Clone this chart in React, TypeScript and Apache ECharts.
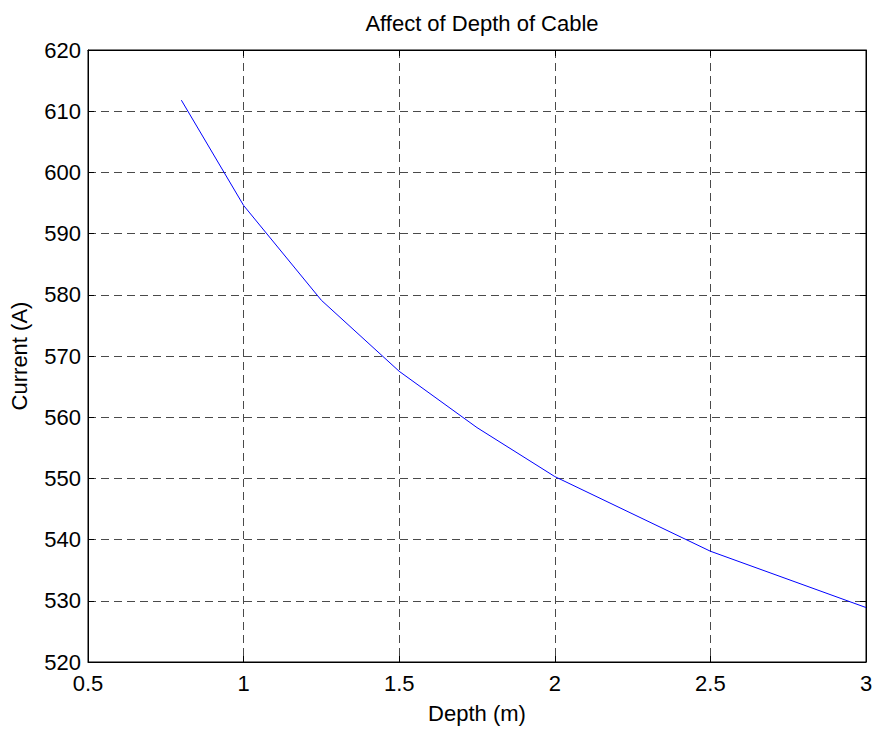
import React, { useEffect, useRef } from "react";
import * as echarts from "echarts";

const depth = [0.8, 1, 1.25, 1.5, 1.75, 2, 2.5, 3];
const current = [611.8, 594.6, 579.1, 567.5, 558.3, 550.3, 538.1, 528.9];

const titleText = "Affect of Depth of Cable";
const xName = "Depth (m)";
const yName = "Current (A)";

const FONT = '"Liberation Sans", Arial, Helvetica, sans-serif';
const FS = 22;

export default function App() {
  const ref = useRef<HTMLDivElement>(null);
  useEffect(() => {
    document.body.style.margin = "0";
    const chart = echarts.init(ref.current!, undefined, { renderer: "svg" });
    const gridLine = { show: true, lineStyle: { color: "#4a4a4a", type: [8, 5] as any, width: 1 } };
    const hidden = { show: false };
    chart.setOption({
      animation: false,
      backgroundColor: "#fff",
      title: {
        text: titleText,
        left: 477,
        top: 7,
        textAlign: "center",
        textStyle: { fontFamily: FONT, fontSize: FS, fontWeight: "normal", color: "#000" },
      },
      grid: {
        left: 88, right: 10, top: 50, bottom: 67,
        show: true, borderColor: "#000", borderWidth: 1, backgroundColor: "transparent",
      },
      xAxis: [
        {
          type: "value", min: 0.5, max: 3, interval: 0.5,
          name: xName, nameLocation: "middle", nameGap: 40,
          nameTextStyle: { fontFamily: FONT, fontSize: FS, color: "#000" },
          axisLine: { show: true, lineStyle: { color: "#000" } },
          axisTick: { show: true, inside: true, length: 6, lineStyle: { color: "#000" } },
          axisLabel: { fontFamily: FONT, fontSize: FS, color: "#000", margin: 10 },
          splitLine: gridLine,
        },
        {
          type: "value", min: 0.5, max: 3, interval: 0.5, position: "top",
          axisLine: { show: true, lineStyle: { color: "#000" } },
          axisTick: { show: true, inside: true, length: 6, lineStyle: { color: "#000" } },
          axisLabel: hidden, splitLine: hidden,
        },
      ],
      yAxis: [
        {
          type: "value", min: 520, max: 620, interval: 10,
          name: yName, nameLocation: "middle", nameGap: 58,
          nameTextStyle: { fontFamily: FONT, fontSize: FS, color: "#000" },
          axisLine: { show: true, lineStyle: { color: "#000" } },
          axisTick: { show: true, inside: true, length: 6, lineStyle: { color: "#000" } },
          axisLabel: { fontFamily: FONT, fontSize: FS, color: "#000", margin: 7 },
          splitLine: gridLine,
        },
        {
          type: "value", min: 520, max: 620, interval: 10, position: "right",
          axisLine: { show: true, lineStyle: { color: "#000" } },
          axisTick: { show: true, inside: true, length: 6, lineStyle: { color: "#000" } },
          axisLabel: hidden, splitLine: hidden,
        },
      ],
      series: [
        {
          type: "line",
          data: depth.map((d, i) => [d, current[i]]),
          showSymbol: false,
          lineStyle: { color: "#0000ff", width: 1 },
          itemStyle: { color: "#0000ff" },
        },
      ],
    });
    return () => chart.dispose();
  }, []);
  return <div ref={ref} style={{ width: 876, height: 729 }} />;
}
